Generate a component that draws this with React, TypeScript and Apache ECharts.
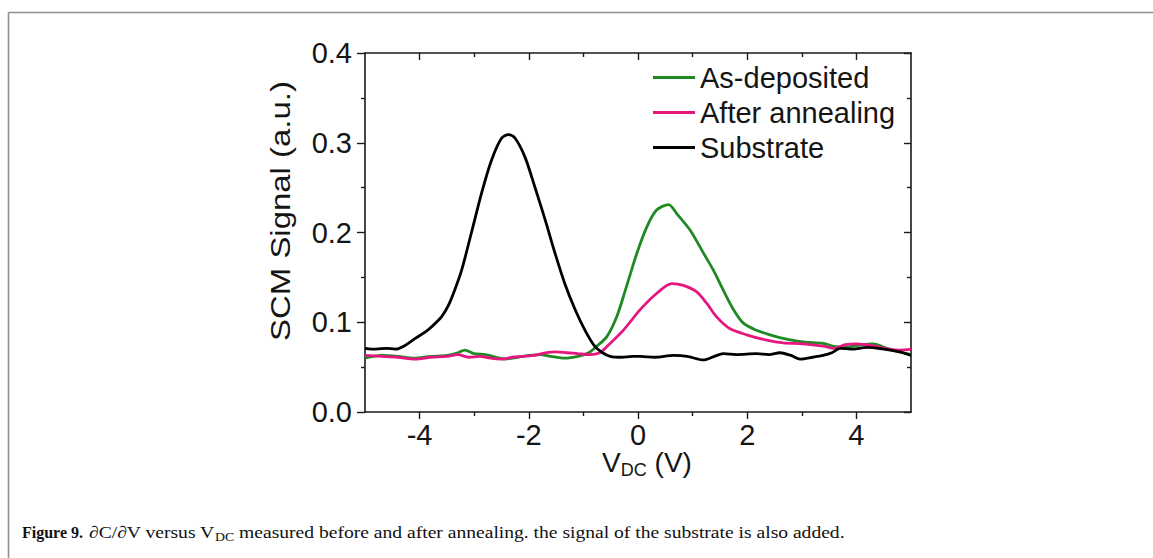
import React, { useEffect, useRef } from 'react';
import * as echarts from 'echarts';

// ---- data ----
const SERIES_NAMES = ['As-deposited', 'After annealing', 'Substrate'];
const SERIES_COLORS = ['#1f8a24', '#e5177f', '#000000'];

const X_ASDEP = [-5.0, -4.7, -4.4, -4.1, -3.8, -3.5, -3.3, -3.17, -3.0, -2.8, -2.6, -2.44, -2.2, -2.0, -1.8, -1.6, -1.34, -1.1, -0.9, -0.76, -0.57, -0.39, -0.21, -0.02, 0.16, 0.34, 0.56, 0.71, 0.95, 1.2, 1.38, 1.56, 1.75, 1.93, 2.17, 2.42, 2.66, 3.03, 3.39, 3.6, 3.8, 4.0, 4.3, 4.6, 4.8, 5.0];
const Y_ASDEP = [0.060, 0.063, 0.062, 0.060, 0.062, 0.063, 0.066, 0.069, 0.065, 0.064, 0.061, 0.059, 0.061, 0.063, 0.064, 0.062, 0.060, 0.062, 0.066, 0.073, 0.084, 0.106, 0.140, 0.177, 0.206, 0.225, 0.231, 0.221, 0.203, 0.177, 0.158, 0.136, 0.114, 0.099, 0.091, 0.086, 0.082, 0.078, 0.0765, 0.073, 0.072, 0.074, 0.076, 0.070, 0.067, 0.064];

const X_ANNEAL = [-5.0, -4.7, -4.4, -4.08, -3.8, -3.5, -3.3, -3.1, -2.9, -2.7, -2.5, -2.3, -2.1, -1.9, -1.7, -1.5, -1.3, -1.1, -0.88, -0.7, -0.57, -0.27, 0.04, 0.34, 0.62, 0.83, 1.07, 1.26, 1.44, 1.68, 1.99, 2.36, 2.66, 3.03, 3.39, 3.6, 3.8, 4.0, 4.3, 4.6, 4.8, 5.0];
const Y_ANNEAL = [0.063, 0.062, 0.061, 0.059, 0.061, 0.062, 0.064, 0.061, 0.062, 0.060, 0.059, 0.061, 0.062, 0.063, 0.066, 0.067, 0.066, 0.065, 0.064, 0.066, 0.073, 0.091, 0.114, 0.132, 0.143, 0.141, 0.134, 0.121, 0.106, 0.093, 0.086, 0.080, 0.077, 0.076, 0.0735, 0.071, 0.075, 0.076, 0.074, 0.070, 0.069, 0.070];

const X_SUBST = [-5.0, -4.8, -4.6, -4.45, -4.3, -4.08, -3.9, -3.78, -3.6, -3.47, -3.35, -3.23, -3.05, -2.86, -2.68, -2.5, -2.37, -2.25, -2.07, -1.89, -1.7, -1.52, -1.34, -1.15, -0.97, -0.79, -0.65, -0.51, -0.3, -0.1, 0.04, 0.3, 0.65, 0.9, 1.2, 1.4, 1.56, 1.8, 2.17, 2.4, 2.6, 2.8, 2.97, 3.2, 3.39, 3.55, 3.7, 3.9, 4.2, 4.5, 4.7, 4.85, 5.0];
const Y_SUBST = [0.071, 0.070, 0.071, 0.070, 0.073, 0.082, 0.089, 0.095, 0.106, 0.119, 0.137, 0.158, 0.200, 0.245, 0.281, 0.305, 0.309, 0.305, 0.284, 0.251, 0.214, 0.177, 0.143, 0.114, 0.091, 0.073, 0.066, 0.062, 0.061, 0.062, 0.062, 0.061, 0.063, 0.062, 0.058, 0.062, 0.065, 0.064, 0.065, 0.064, 0.066, 0.063, 0.059, 0.061, 0.063, 0.066, 0.071, 0.070, 0.072, 0.070, 0.068, 0.066, 0.063];

const X_MIN = -5;
const X_MAX = 5;
const Y_MIN = 0;
const Y_MAX = 0.4;
const X_MAJOR = [-4, -2, 0, 2, 4];
const X_MINOR = [-3, -1, 1, 3];
const Y_MAJOR = [0, 0.1, 0.2, 0.3, 0.4];
const Y_MINOR = [0.05, 0.15, 0.25, 0.35];

const Y_TITLE = 'SCM Signal (a.u.)';
const X_TITLE_MAIN = 'V';
const X_TITLE_SUB = 'DC';
const X_TITLE_UNIT = ' (V)';
const CAPTION_BOLD = 'Figure 9.';
const CAPTION_A = '∂C/∂V versus V';
const CAPTION_SUB = 'DC';
const CAPTION_B = ' measured before and after annealing. the signal of the substrate is also added.';

const SANS = '"Liberation Sans", Arial, Helvetica, sans-serif';
const SERIF = '"Liberation Serif", "Times New Roman", serif';

const zip = (xs: number[], ys: number[]) => xs.map((x, i) => [x, ys[i]]);

export default function App() {
  const ref = useRef<HTMLDivElement>(null);

  useEffect(() => {
    document.body.style.margin = '0';
    if (!ref.current) return;
    const chart = echarts.init(ref.current, undefined, { renderer: 'svg' });

    const axisLineStyle = { color: '#1a1a1a', width: 1.6 };
    const tickStyle = { color: '#1a1a1a', width: 1.4 };
    const labelStyle = { fontSize: 29, color: '#151515', fontFamily: SANS };

    const xAxisBase = { type: 'value', min: X_MIN, max: X_MAX, splitLine: { show: false } };
    const yAxisBase = { type: 'value', min: Y_MIN, max: Y_MAX, splitLine: { show: false } };

    const datasets = [zip(X_ASDEP, Y_ASDEP), zip(X_ANNEAL, Y_ANNEAL), zip(X_SUBST, Y_SUBST)];

    chart.setOption({
      animation: false,
      textStyle: { fontFamily: SANS },
      grid: { left: 365, right: 242, top: 53, bottom: 146, containLabel: false },
      legend: {
        orient: 'vertical',
        left: 653,
        top: 63,
        padding: 0,
        itemWidth: 42,
        itemHeight: 3,
        itemGap: 6,
        icon: 'rect',
        selectedMode: false,
        textStyle: { fontSize: 29, color: '#151515', fontFamily: SANS },
        data: SERIES_NAMES,
      },
      xAxis: [
        {
          ...xAxisBase,
          position: 'bottom',
          axisLine: { show: true, onZero: false, lineStyle: axisLineStyle },
          axisTick: { show: true, customValues: X_MAJOR, length: 7, lineStyle: tickStyle },
          axisLabel: { show: true, customValues: X_MAJOR, margin: 8, ...labelStyle },
        },
        {
          ...xAxisBase,
          position: 'bottom',
          axisLine: { show: false, onZero: false },
          axisTick: { show: true, customValues: X_MINOR, length: 4, lineStyle: tickStyle },
          axisLabel: { show: false },
        },
        {
          ...xAxisBase,
          position: 'top',
          axisLine: { show: true, onZero: false, lineStyle: axisLineStyle },
          axisTick: { show: true, inside: true, customValues: X_MAJOR, length: 7, lineStyle: tickStyle },
          axisLabel: { show: false },
        },
        {
          ...xAxisBase,
          position: 'top',
          axisLine: { show: false, onZero: false },
          axisTick: { show: true, inside: true, customValues: X_MINOR, length: 4, lineStyle: tickStyle },
          axisLabel: { show: false },
        },
      ],
      yAxis: [
        {
          ...yAxisBase,
          position: 'left',
          axisLine: { show: true, onZero: false, lineStyle: axisLineStyle },
          axisTick: { show: true, customValues: Y_MAJOR, length: 8, lineStyle: tickStyle },
          axisLabel: {
            show: true,
            customValues: Y_MAJOR,
            margin: 13,
            formatter: (v: number) => v.toFixed(1),
            ...labelStyle,
          },
        },
        {
          ...yAxisBase,
          position: 'left',
          axisLine: { show: false, onZero: false },
          axisTick: { show: true, customValues: Y_MINOR, length: 4, lineStyle: tickStyle },
          axisLabel: { show: false },
        },
        {
          ...yAxisBase,
          position: 'right',
          axisLine: { show: true, onZero: false, lineStyle: axisLineStyle },
          axisTick: { show: true, inside: true, customValues: Y_MAJOR, length: 7, lineStyle: tickStyle },
          axisLabel: { show: false },
        },
        {
          ...yAxisBase,
          position: 'right',
          axisLine: { show: false, onZero: false },
          axisTick: { show: true, inside: true, customValues: Y_MINOR, length: 4, lineStyle: tickStyle },
          axisLabel: { show: false },
        },
      ],
      series: SERIES_NAMES.map((name, i) => ({
        name,
        type: 'line',
        xAxisIndex: 0,
        yAxisIndex: 0,
        data: datasets[i],
        showSymbol: false,
        symbol: 'none',
        smooth: 0.3,
        lineStyle: { color: SERIES_COLORS[i], width: 2.8 },
        itemStyle: { color: SERIES_COLORS[i] },
        z: 2 + i,
      })),
      graphic: [
        {
          type: 'line',
          shape: { x1: 8.5, y1: 12.5, x2: 1153, y2: 12.5 },
          style: { stroke: '#8f8f8f', lineWidth: 1.6 },
          silent: true,
        },
        {
          type: 'line',
          shape: { x1: 8.5, y1: 12.5, x2: 8.5, y2: 558 },
          style: { stroke: '#8f8f8f', lineWidth: 1.6 },
          silent: true,
        },
        {
          type: 'text',
          x: 281,
          y: 211,
          rotation: Math.PI / 2,
          scaleX: 1.22,
          style: {
            text: Y_TITLE,
            fontSize: 27,
            fontFamily: SANS,
            fill: '#151515',
            align: 'center',
            verticalAlign: 'middle',
          },
          silent: true,
        },
        {
          type: 'text',
          x: 647,
          y: 462,
          style: {
            text: `{m|${X_TITLE_MAIN}}{s|${X_TITLE_SUB}}{m|${X_TITLE_UNIT}}`,
            fontSize: 28,
            fontFamily: SANS,
            fill: '#151515',
            align: 'center',
            verticalAlign: 'middle',
            rich: {
              m: { fontSize: 28, fontFamily: SANS, fill: '#151515', lineHeight: 30 },
              s: { fontSize: 18, fontFamily: SANS, fill: '#151515', lineHeight: 18, padding: [16, 0, 0, 0] },
            },
          },
          silent: true,
        },
        {
          type: 'text',
          x: 22,
          y: 532,
          style: {
            text: CAPTION_BOLD,
            fontSize: 16,
            fontFamily: SERIF,
            fontWeight: 'bold',
            fill: '#111',
            align: 'left',
            verticalAlign: 'middle',
          },
          silent: true,
        },
        {
          type: 'text',
          x: 89,
          y: 532,
          scaleX: 1.152,
          style: {
            text: `{n|${CAPTION_A}}{s|${CAPTION_SUB}}{n|${CAPTION_B}}`,
            fontSize: 17,
            fontFamily: SERIF,
            fill: '#111',
            align: 'left',
            verticalAlign: 'middle',
            rich: {
              n: { fontSize: 17, fontFamily: SERIF, fill: '#111', lineHeight: 19 },
              s: { fontSize: 12, fontFamily: SERIF, fill: '#111', lineHeight: 12, padding: [9, 0, 0, 0] },
            },
          },
          silent: true,
        },
      ],
    });

    return () => chart.dispose();
  }, []);

  return <div ref={ref} style={{ width: 1153, height: 558 }} />;
}
